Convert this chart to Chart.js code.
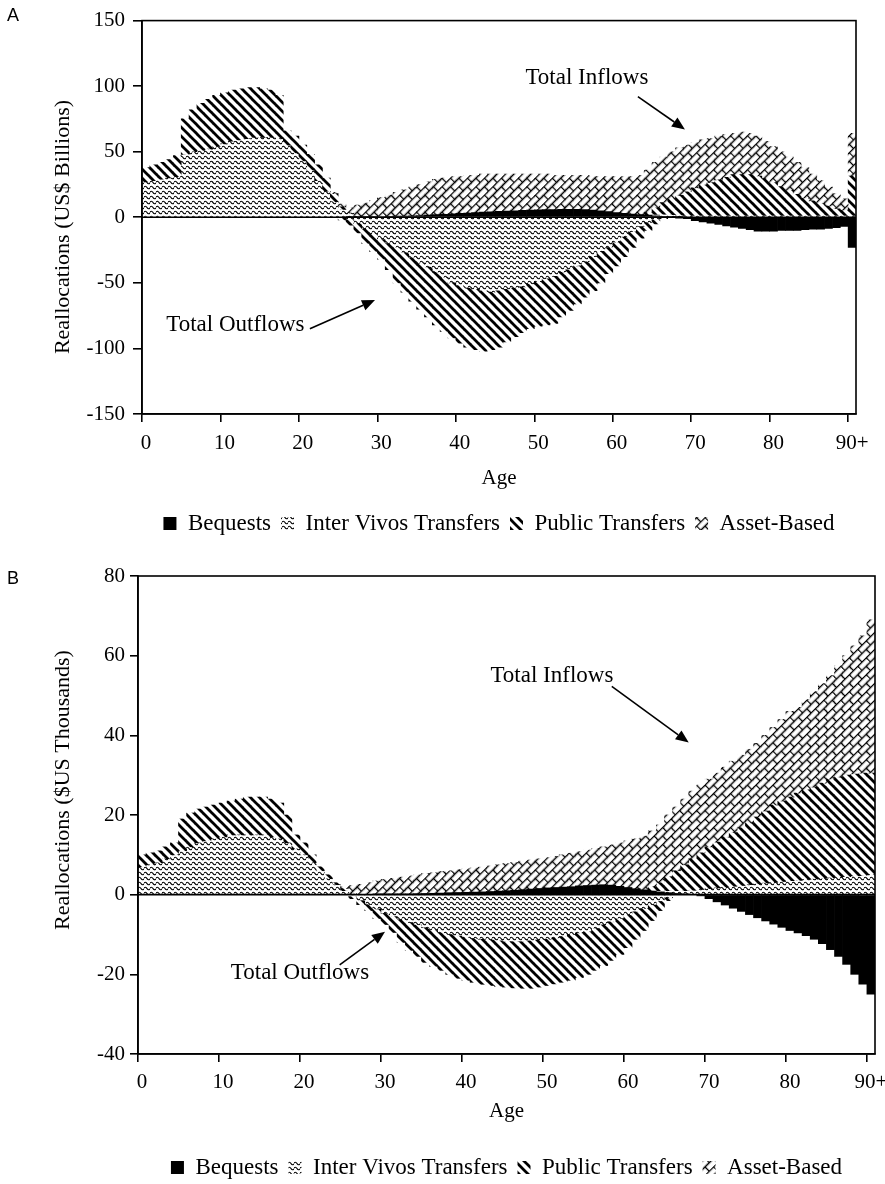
<!DOCTYPE html>
<html>
<head>
<meta charset="utf-8">
<script src="https://cdn.jsdelivr.net/npm/chart.js@4/dist/chart.umd.min.js"></script>
<style>
  html, body { margin:0; padding:0; background:#fff; width:885px; height:1184px; overflow:hidden; position:relative; }
  canvas { position:absolute; left:0; display:block; }
  .tag { position:absolute; left:7px; font-family:"Liberation Sans", Arial, sans-serif; font-size:18px; line-height:18px; color:#000; }
</style>
</head>
<body>
<canvas id="chartA" width="885" height="555" style="top:0"></canvas>
<canvas id="chartB" width="885" height="634" style="top:556px"></canvas>
<div class="tag" style="top:6px">A</div>
<div class="tag" style="top:569px">B</div>
<script>
// ---------- categories & tick labels ----------
const ageLabels = [];
for (let i = 0; i <= 90; i++) ageLabels.push(i === 90 ? '90+' : String(i));
const xTickLabels = ['0', '10', '20', '30', '40', '50', '60', '70', '80', '90+'];
const yTicksA = [-150, -100, -50, 0, 50, 100, 150];
const yTicksB = [-40, -20, 0, 20, 40, 60, 80];

// ---------- Panel A (US$ billions), ages 0..90+ ----------
const aBequestsIn = [0,0,0,0,0,0,0,0,0,0, 0,0,0,0,0,0,0,0,0,0, 0,0,0,0,0,0,0.2,0.3,0.4,0.5, 0.6,0.7,0.9,1,1.2,1.4,1.7,2,2.3,2.6, 3,3.3,3.6,3.9,4.2,4.5,4.8,5,5.3,5.5, 5.7,5.8,5.9,6,6,6,5.8,5.5,5,4.3, 3.6,3,2.5,2,1.6,1.2,0.8,0.5,0.2,0, 0,0,0,0,0,0,0,0,0,0, 0,0,0,0,0,0,0,0,0,0, 0];
const aInterVivosIn = [27,28,29,30,31,48,50,51,52,54, 56,58,59,60,61,61,61,60,55,49, 43,36,28,20,12,6,3,1,0,0, 0,0,0,0,0,0,0,0,0,0, 0,0,0,0,0,0,0,0,0,0, 0,0,0,0,0,0,0,0,0,0, 0,0,0,0,0,1,1.5,1.5,1.5,1.5, 1.5,1.5,1.5,1.5,1.5,1.5,1.5,1.5,1.5,1.5, 1.5,1.5,1.5,1.5,1.5,1.5,1.5,1.5,1.5,1.5, 1.5];
const aPublicIn = [11,12,13,14,16,27,32,36,38,39, 39,39,39,39,38,37,36,33,11,13, 12,12,12,10,6,2,0,0,0,0, 0,0,0,0,0,0,0,0,0,0, 0,0,0,0,0,0,0,0,0,0, 0,0,0,0,0,0,0,0,0,0, 0,0,0,0,2,5,9,12,15,18, 21,23,25,27,29,31,31,31,30,28, 25,22,19,16,13,11,9,7,5,4, 30];
const aAssetIn = [0,0,0,0,0,0,0,0,0,0, 0,0,0,0,0,0,0,0,0,0, 0,0,0,0,1,2,4,8,10.5,12.5, 14.4,16.3,18.1,20,21.8,23.6,25.3,27,27.7,28.4, 28,28.7,28.4,29.1,28.8,28.5,28.2,28,27.7,27.5, 27.3,27.2,26.1,26,26,26,26.2,25.5,26,26.7, 27.4,28,28.5,30,32.4,34.8,34.7,36,36.3,35.5, 34.5,34.5,33.5,33.5,32.5,31.5,32.5,31.5,30.5,28.5, 27.5,26.5,25.5,24.5,23.5,20.5,17.5,14.5,11.5,8.5, 32.5];
const aBequestsOut = [0,0,0,0,0,0,0,0,0,0, 0,0,0,0,0,0,0,0,0,0, 0,0,0,0,0,0,0,0,0,0, 0,0,0,0,0,0,0,0,0,0, 0,0,0,0,0,0,0,0,0,0, 0,0,0,0,0,0,0,0,0,0, 0,0,0,0,0,0,0,0,-0.5,-1, -2.5,-3.5,-4.5,-5.5,-6.5,-7.5,-8.5,-9.5,-10.5,-10.5, -10.5,-10,-10,-10,-9.5,-9,-9,-8.5,-8,-7, -23];
const aInterVivosOut = [0,0,0,0,0,0,0,0,0,0, 0,0,0,0,0,0,0,0,0,0, 0,0,0,0,0,0,-2,-5,-9,-13, -17,-20,-23,-27,-31,-35,-38,-42,-46,-50, -52,-54,-55,-56,-57,-56,-55,-54,-53,-51, -49,-47,-45,-42,-40,-37,-34,-30,-26,-23, -19,-15,-11,-7,-4,-2,0,0,0,0, 0,0,0,0,0,0,0,0,0,0, 0,0,0,0,0,0,0,0,0,0, 0];
const aPublicOut = [0,0,0,0,0,0,0,0,0,0, 0,0,0,0,0,0,0,0,0,0, 0,0,0,0,0,-2,-4,-7,-11,-13, -15,-20,-27,-30,-33,-35,-38,-40,-41,-42, -44,-45,-46,-46,-44,-43,-40,-37,-35,-34, -34,-35,-36,-34,-31,-29,-27,-26,-24,-20, -18,-15,-12,-9,-6,-3,-1,0,0,0, 0,0,0,0,0,0,0,0,0,0, 0,0,0,0,0,0,0,0,0,0, 0];

// ---------- Panel B ($US thousands per capita), ages 0..90+ ----------
const bBequestsIn = [0,0,0,0,0,0,0,0,0,0, 0,0,0,0,0,0,0,0,0,0, 0,0,0,0,0,0,0,0,0,0.05, 0.1,0.1,0.15,0.2,0.25,0.3,0.35,0.4,0.5,0.55, 0.6,0.65,0.7,0.8,0.9,1,1.1,1.25,1.4,1.55, 1.7,1.8,1.9,2,2.2,2.3,2.4,2.5,2.4,2.1, 1.8,1.5,1.2,0.9,0.7,0.5,0.3,0.1,0,0, 0,0,0,0,0,0,0,0,0,0, 0,0,0,0,0,0,0,0,0,0, 0];
const bInterVivosIn = [7,7.5,8,9,10,11,12,13,13.5,14, 14.5,15,15,15,15,15,14.5,14,13,11.5, 10,8,6,4,2.5,1,0.3,0,0,0, 0,0,0,0,0,0,0,0,0,0, 0,0,0,0,0,0,0,0,0,0, 0,0,0,0,0,0,0,0,0,0, 0,0,0,0.1,0.3,0.5,0.7,0.9,1.1,1.3, 1.5,1.7,1.9,2.1,2.3,2.5,2.7,2.9,3.1,3.3, 3.5,3.6,3.8,3.9,4.1,4.2,4.4,4.5,4.7,4.8, 5];
const bPublicIn = [3,3,3,3,3,8,8.5,8.5,8.5,8.5, 8.5,8.5,9,9.5,9.5,9.5,9.5,9,7,3.5, 3,2,1,1,0.5,0.5,0,0,0,0, 0,0,0,0,0,0,0,0,0,0, 0,0,0,0,0,0,0,0,0,0, 0,0,0,0,0,0,0,0,0,0, 0,0,0,1,2,3.5,5,6.5,7.9,9.2, 10.5,11.5,12.5,13.5,14.5,15.5,16.8,18.1,19.4,20.2, 21,21.9,22.5,23.1,23.9,24.8,25.1,25.5,25.6,25.7, 25.5];
const bAssetIn = [0,0,0,0,0,0,0,0,0,0, 0,0,0,0,0,0,0,0,0,0, 0,0,0,0,0,0.5,2,2.6,3,3.4, 3.7,4,4.25,4.5,4.75,5,5.15,5.4,5.5,5.75, 5.9,6.05,6.2,6.4,6.6,6.8,7,7.15,7.3,7.45, 7.6,7.8,8.1,8.4,8.6,8.9,9.2,9.5,10.1,10.9, 11.7,12.5,13.5,14,14.5,15.5,16,16.5,17,17, 17,17.3,17.6,17.9,18.2,18.5,18.5,19,19.5,20.5, 21.5,21.5,22.7,24,25,26,28,30,32.2,34.5, 38.5];
const bBequestsOut = [0,0,0,0,0,0,0,0,0,0, 0,0,0,0,0,0,0,0,0,0, 0,0,0,0,0,0,0,0,0,0, 0,0,0,0,0,0,0,0,0,0, 0,0,0,0,0,0,0,0,0,0, 0,0,0,0,0,0,0,0,0,0, 0,0,0,0,0,0,0,0,0,-0.3, -1,-1.8,-2.6,-3.4,-4.2,-5,-5.8,-6.6,-7.4,-8.2, -9,-9.6,-10.3,-11.2,-12.3,-13.8,-15.5,-17.5,-20,-22.5, -25];
const bInterVivosOut = [0,0,0,0,0,0,0,0,0,0, 0,0,0,0,0,0,0,0,0,0, 0,0,0,0,0,0,-0.5,-1.5,-2.5,-3.6, -4.7,-5.5,-6.3,-7,-7.6,-8.3,-9,-9.6,-10,-10.4, -10.7,-11,-11.2,-11.4,-11.6,-11.8,-11.8,-11.8,-11.6,-11.4, -11.2,-10.9,-10.5,-10,-9.6,-9.3,-8.5,-7.6,-6.8,-6, -5.2,-4.3,-3.5,-2.6,-1.7,-0.8,0,0,0,0, 0,0,0,0,0,0,0,0,0,0, 0,0,0,0,0,0,0,0,0,0, 0];
const bPublicOut = [0,0,0,0,0,0,0,0,0,0, 0,0,0,0,0,0,0,0,0,0, 0,0,0,0,0,0,-0.5,-1,-1.5,-2.4, -2.8,-4,-5.7,-7,-7.9,-8.7,-9,-9.4,-10,-10.6, -10.8,-11,-11.3,-11.4,-11.4,-11.4,-11.6,-11.7,-11.9,-11.8, -11.6,-11.5,-11.5,-11.5,-11.2,-10.7,-10.5,-10.2,-9.7,-9, -8.1,-6.9,-5.5,-3.9,-2.3,-0.7,0,0,0,0, 0,0,0,0,0,0,0,0,0,0, 0,0,0,0,0,0,0,0,0,0, 0];

// ---------- fill patterns ----------
function tile(w, h, draw) {
  const c = document.createElement('canvas');
  c.width = w; c.height = h;
  const g = c.getContext('2d');
  g.strokeStyle = '#000';
  draw(g);
  return g.createPattern(c, 'repeat');
}
const solidFill = '#000';
const waveFill = tile(6, 5, g => {
  g.lineWidth = 1.2;
  g.beginPath();
  g.moveTo(-0.5, 2.5);
  g.quadraticCurveTo(1.5, 0.0, 3, 2.5);
  g.quadraticCurveTo(4.5, 5.0, 6.5, 2.5);
  g.stroke();
});
const diagFill = tile(9, 9, g => {
  g.lineWidth = 2.7;
  g.lineCap = 'square';
  for (let k = -1; k <= 1; k++) {
    g.beginPath();
    g.moveTo(k * 9 - 1, -1);
    g.lineTo(k * 9 + 10, 10);
    g.stroke();
  }
});
const brickFill = tile(12, 12, g => {
  g.lineWidth = 1.3;
  g.beginPath();
  g.moveTo(0, 0.5); g.lineTo(12, 0.5);
  g.moveTo(0, 6.5); g.lineTo(12, 6.5);
  g.moveTo(0.5, 0.5); g.lineTo(0.5, 6.5);
  g.moveTo(6.5, 6.5); g.lineTo(6.5, 12.5);
  g.stroke();
});
brickFill.setTransform(new DOMMatrix().rotate(-45));

// ---------- plugins ----------
const framePlugin = {
  id: 'frame',
  afterDatasetsDraw(chart) {
    const {ctx, chartArea: a} = chart;
    const y0 = chart.scales.y.getPixelForValue(0);
    ctx.save();
    ctx.strokeStyle = '#000';
    ctx.lineWidth = 1.6;
    ctx.strokeRect(a.left, a.top, a.right - a.left, a.bottom - a.top);
    ctx.beginPath();
    ctx.moveTo(a.left, y0); ctx.lineTo(a.right, y0);
    ctx.stroke();
    ctx.restore();
  }
};
const yTitlePlugin = {
  id: 'yTitle',
  afterDraw(chart, args, o) {
    const ctx = chart.ctx;
    ctx.save();
    ctx.font = '22px "Liberation Serif", "Times New Roman", serif';
    ctx.fillStyle = '#000';
    ctx.translate(o.x, o.y);
    ctx.rotate(-Math.PI / 2);
    ctx.textAlign = 'center';
    ctx.textBaseline = 'middle';
    ctx.fillText(o.text, 0, 0);
    ctx.restore();
  }
};
const notesPlugin = {
  id: 'notes',
  afterDatasetsDraw(chart, args, o) {
    const {ctx, chartArea: a} = chart;
    const ys = chart.scales.y;
    const px = age => a.left + (a.right - a.left) * age / ageLabels.length;
    const py = v => ys.getPixelForValue(v);
    ctx.save();
    ctx.font = '23px "Liberation Serif", "Times New Roman", serif';
    ctx.fillStyle = '#000';
    ctx.strokeStyle = '#000';
    ctx.textAlign = 'center';
    ctx.textBaseline = 'middle';
    (o.items || []).forEach(n => {
      ctx.fillText(n.text, px(n.at[0]), py(n.at[1]));
      const x1 = px(n.from[0]), y1 = py(n.from[1]);
      const x2 = px(n.to[0]), y2 = py(n.to[1]);
      const ang = Math.atan2(y2 - y1, x2 - x1);
      const hl = 13, hw = 5.5;
      const bx = x2 - hl * Math.cos(ang), by = y2 - hl * Math.sin(ang);
      ctx.lineWidth = 1.6;
      ctx.beginPath(); ctx.moveTo(x1, y1); ctx.lineTo(bx, by); ctx.stroke();
      ctx.beginPath();
      ctx.moveTo(x2, y2);
      ctx.lineTo(bx + hw * Math.sin(ang), by - hw * Math.cos(ang));
      ctx.lineTo(bx - hw * Math.sin(ang), by + hw * Math.cos(ang));
      ctx.closePath();
      ctx.fill();
    });
    ctx.restore();
  }
};
Chart.register(framePlugin, yTitlePlugin, notesPlugin);
Chart.defaults.font.family = '"Liberation Serif", "Times New Roman", serif';
Chart.defaults.font.size = 21;
Chart.defaults.color = '#000';

function buildChart(id, s) {
  const ds = (label, data, bg) => ({
    label, data, backgroundColor: bg, borderWidth: 0,
    barPercentage: 1, categoryPercentage: 1,
    inflateAmount: c => (c.raw ? 0.33 : 0)
  });
  return new Chart(document.getElementById(id), {
    type: 'bar',
    data: {
      labels: ageLabels,
      datasets: [
        ds('Bequests', s.beqIn, solidFill),
        ds('Inter Vivos Transfers', s.ivIn, waveFill),
        ds('Public Transfers', s.pubIn, diagFill),
        ds('Asset-Based', s.assetIn, brickFill),
        ds('Bequests (outflows)', s.beqOut, solidFill),
        ds('Inter Vivos Transfers (outflows)', s.ivOut, waveFill),
        ds('Public Transfers (outflows)', s.pubOut, diagFill)
      ]
    },
    options: {
      responsive: false,
      animation: false,
      layout: { padding: s.pad },
      plugins: {
        legend: {
          position: 'bottom', fullSize: false,
          labels: { boxWidth: 13, boxHeight: 13, padding: 10, color: '#000', font: { size: 23 },
                    filter: it => it.datasetIndex < 4 }
        },
        tooltip: { enabled: false },
        yTitle: s.yTitle,
        notes: { items: s.notes }
      },
      scales: {
        x: {
          stacked: true,
          grid: { offset: true, drawOnChartArea: false, drawTicks: true, tickLength: 8, lineWidth: 1.6,
                  tickColor: c => (c.index !== undefined && xTickLabels.includes(ageLabels[c.index])) ? '#000' : 'rgba(0,0,0,0)' },
          border: { display: true, color: '#000', width: 1.6 },
          ticks: { autoSkip: false, maxRotation: 0, minRotation: 0, padding: s.xTickPad, color: '#000', font: { size: 21 },
                   callback: (v, i) => xTickLabels.includes(ageLabels[i]) ? ageLabels[i] : '' },
          title: { display: true, text: 'Age', color: '#000', font: { size: 21 }, padding: { top: 0, bottom: s.agePad } },
          afterFit: sc => { sc.height = s.xH; sc.paddingLeft = 0; sc.paddingRight = 0; }
        },
        y: {
          stacked: true, min: s.yMin, max: s.yMax,
          afterBuildTicks: sc => { sc.ticks = s.yTicks.map(v => ({ value: v })); },
          grid: { drawOnChartArea: false, drawTicks: true, tickLength: s.yTickLen, lineWidth: 1.6, tickColor: '#000' },
          border: { display: true, color: '#000', width: 1.6 },
          ticks: { padding: s.yTickPad, color: '#000', font: { size: 21 } },
          afterFit: sc => { sc.width = s.yW; }
        }
      }
    }
  });
}

buildChart('chartA', {
  beqIn: aBequestsIn, ivIn: aInterVivosIn, pubIn: aPublicIn, assetIn: aAssetIn,
  beqOut: aBequestsOut, ivOut: aInterVivosOut, pubOut: aPublicOut,
  yMin: -150, yMax: 150, yTicks: yTicksA,
  pad: { left: 0, top: 14, right: 29, bottom: 10 },
  yW: 142, xH: 88, xTickPad: 9, agePad: 11, yTickLen: 9, yTickPad: 8,
  yTitle: { text: 'Reallocations (US$ Billions)', x: 63, y: 227 },
  notes: [
    { text: 'Total Inflows', at: [56.7, 106], from: [63.2, 92], to: [69.2, 67] },
    { text: 'Total Outflows', at: [11.9, -82], from: [21.4, -85], to: [29.7, -63] }
  ]
});

buildChart('chartB', {
  beqIn: bBequestsIn, ivIn: bInterVivosIn, pubIn: bPublicIn, assetIn: bAssetIn,
  beqOut: bBequestsOut, ivOut: bInterVivosOut, pubOut: bPublicOut,
  yMin: -40, yMax: 80, yTicks: yTicksB,
  pad: { left: 0, top: 20, right: 10, bottom: 1 },
  yW: 138, xH: 92, xTickPad: 8, agePad: 22, yTickLen: 8, yTickPad: 5,
  yTitle: { text: 'Reallocations ($US Thousands)', x: 63, y: 234 },
  notes: [
    { text: 'Total Inflows', at: [51.1, 54.8], from: [58.5, 52.3], to: [68, 38.2] },
    { text: 'Total Outflows', at: [20, -19.6], from: [24.9, -17.6], to: [30.5, -9.3] }
  ]
});
</script>
</body>
</html>
